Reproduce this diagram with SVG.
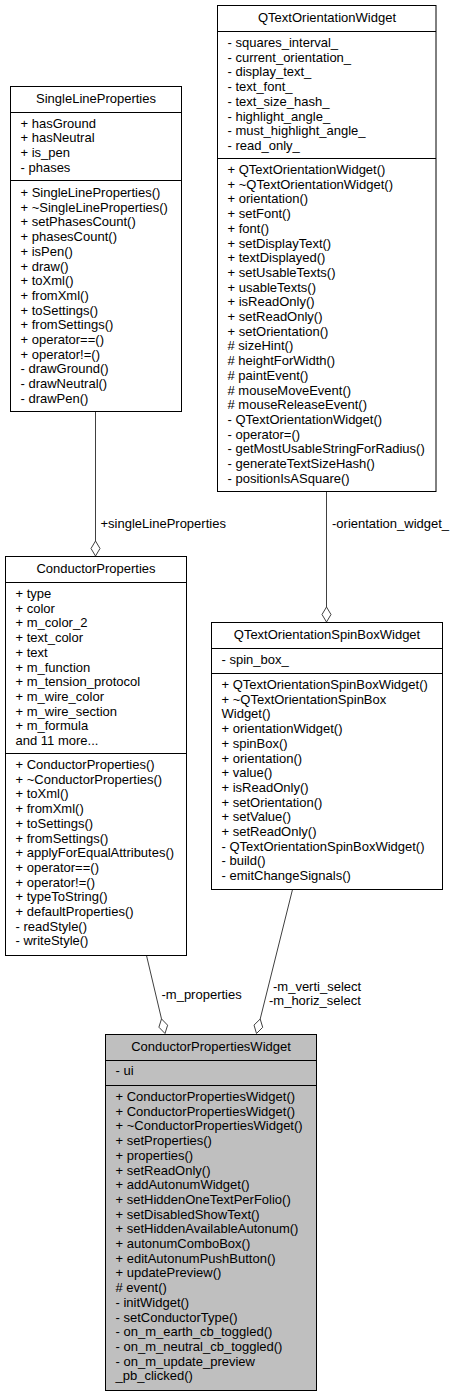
<svg xmlns="http://www.w3.org/2000/svg" width="453" height="1395" viewBox="0 0 453 1395">
<style>
text{font-family:"Liberation Sans",Arial,sans-serif;font-size:13px;fill:#000}
.t{text-anchor:middle}
.box{fill:#fff;stroke:#000;stroke-width:1}
.cur{fill:#bfbfbf;stroke:#000;stroke-width:1}
.sep{stroke:#000;stroke-width:1}
.e{stroke:#404040;stroke-width:1;fill:none}
.d{fill:#fff;stroke:#404040;stroke-width:1}
</style>
<rect width="453" height="1395" fill="#fff"/>
<g id="edges">
<line class="e" x1="95.5" y1="411.5" x2="95.5" y2="541"/>
<polygon class="d" points="95.5,556 100,548.5 95.5,541 91,548.5"/>
<text x="100.5" y="528">+singleLineProperties</text>
<line class="e" x1="326.5" y1="491.5" x2="326.5" y2="607"/>
<polygon class="d" points="326.5,622 331,614.5 326.5,607 322,614.5"/>
<text x="332" y="528">-orientation_widget_</text>
<line class="e" x1="146.5" y1="955.5" x2="161.5" y2="1018.9"/>
<polygon class="d" points="165,1033.5 167.6,1025.2 161.5,1018.9 158.9,1027.2"/>
<text x="161.5" y="998.5">-m_properties</text>
<line class="e" x1="292.5" y1="889.5" x2="260.2" y2="1019"/>
<polygon class="d" points="256.5,1033.5 262.7,1027.3 260.2,1019 254,1025.1"/>
<text x="273" y="991">-m_verti_select</text>
<text x="269" y="1004.5">-m_horiz_select</text>
</g>
<g id="SingleLineProperties">
<rect class="box" x="10.5" y="86.5" width="171" height="325"/>
<line class="sep" x1="10.5" y1="112.5" x2="181.5" y2="112.5"/>
<line class="sep" x1="10.5" y1="180.5" x2="181.5" y2="180.5"/>
<text class="t" x="96" y="103">SingleLineProperties</text>
<text x="20.5" y="127.5">+ hasGround</text>
<text x="20.5" y="142.2">+ hasNeutral</text>
<text x="20.5" y="156.9">+ is_pen</text>
<text x="20.5" y="171.6">- phases</text>
<text x="20.5" y="197">+ SingleLineProperties()</text>
<text x="20.5" y="211.7">+ ~SingleLineProperties()</text>
<text x="20.5" y="226.4">+ setPhasesCount()</text>
<text x="20.5" y="241.1">+ phasesCount()</text>
<text x="20.5" y="255.8">+ isPen()</text>
<text x="20.5" y="270.5">+ draw()</text>
<text x="20.5" y="285.2">+ toXml()</text>
<text x="20.5" y="299.9">+ fromXml()</text>
<text x="20.5" y="314.6">+ toSettings()</text>
<text x="20.5" y="329.3">+ fromSettings()</text>
<text x="20.5" y="344">+ operator==()</text>
<text x="20.5" y="358.7">+ operator!=()</text>
<text x="20.5" y="373.4">- drawGround()</text>
<text x="20.5" y="388.1">- drawNeutral()</text>
<text x="20.5" y="402.8">- drawPen()</text>
</g>
<g id="QTextOrientationWidget">
<rect class="box" x="217.5" y="5.5" width="218.5" height="486"/>
<line class="sep" x1="217.5" y1="31.5" x2="436" y2="31.5"/>
<line class="sep" x1="217.5" y1="158.5" x2="436" y2="158.5"/>
<text class="t" x="327" y="22">QTextOrientationWidget</text>
<text x="227.5" y="47">- squares_interval_</text>
<text x="227.5" y="61.7">- current_orientation_</text>
<text x="227.5" y="76.4">- display_text_</text>
<text x="227.5" y="91.1">- text_font_</text>
<text x="227.5" y="105.8">- text_size_hash_</text>
<text x="227.5" y="120.5">- highlight_angle_</text>
<text x="227.5" y="135.2">- must_highlight_angle_</text>
<text x="227.5" y="149.9">- read_only_</text>
<text x="227.5" y="174">+ QTextOrientationWidget()</text>
<text x="227.5" y="188.7">+ ~QTextOrientationWidget()</text>
<text x="227.5" y="203.4">+ orientation()</text>
<text x="227.5" y="218.1">+ setFont()</text>
<text x="227.5" y="232.8">+ font()</text>
<text x="227.5" y="247.5">+ setDisplayText()</text>
<text x="227.5" y="262.2">+ textDisplayed()</text>
<text x="227.5" y="276.9">+ setUsableTexts()</text>
<text x="227.5" y="291.6">+ usableTexts()</text>
<text x="227.5" y="306.3">+ isReadOnly()</text>
<text x="227.5" y="321">+ setReadOnly()</text>
<text x="227.5" y="335.7">+ setOrientation()</text>
<text x="227.5" y="350.4"># sizeHint()</text>
<text x="227.5" y="365.1"># heightForWidth()</text>
<text x="227.5" y="379.8"># paintEvent()</text>
<text x="227.5" y="394.5"># mouseMoveEvent()</text>
<text x="227.5" y="409.2"># mouseReleaseEvent()</text>
<text x="227.5" y="423.9">- QTextOrientationWidget()</text>
<text x="227.5" y="438.6">- operator=()</text>
<text x="227.5" y="453.3">- getMostUsableStringForRadius()</text>
<text x="227.5" y="468">- generateTextSizeHash()</text>
<text x="227.5" y="482.7">- positionIsASquare()</text>
</g>
<g id="ConductorProperties">
<rect class="box" x="5.5" y="556.5" width="181" height="399"/>
<line class="sep" x1="5.5" y1="582.5" x2="186.5" y2="582.5"/>
<line class="sep" x1="5.5" y1="753.5" x2="186.5" y2="753.5"/>
<text class="t" x="96" y="573">ConductorProperties</text>
<text x="15.5" y="598">+ type</text>
<text x="15.5" y="612.7">+ color</text>
<text x="15.5" y="627.4">+ m_color_2</text>
<text x="15.5" y="642.1">+ text_color</text>
<text x="15.5" y="656.8">+ text</text>
<text x="15.5" y="671.5">+ m_function</text>
<text x="15.5" y="686.2">+ m_tension_protocol</text>
<text x="15.5" y="700.9">+ m_wire_color</text>
<text x="15.5" y="715.6">+ m_wire_section</text>
<text x="15.5" y="730.3">+ m_formula</text>
<text x="15.5" y="745">and 11 more...</text>
<text x="15.5" y="769">+ ConductorProperties()</text>
<text x="15.5" y="783.7">+ ~ConductorProperties()</text>
<text x="15.5" y="798.4">+ toXml()</text>
<text x="15.5" y="813.1">+ fromXml()</text>
<text x="15.5" y="827.8">+ toSettings()</text>
<text x="15.5" y="842.5">+ fromSettings()</text>
<text x="15.5" y="857.2">+ applyForEqualAttributes()</text>
<text x="15.5" y="871.9">+ operator==()</text>
<text x="15.5" y="886.6">+ operator!=()</text>
<text x="15.5" y="901.3">+ typeToString()</text>
<text x="15.5" y="916">+ defaultProperties()</text>
<text x="15.5" y="930.7">- readStyle()</text>
<text x="15.5" y="945.4">- writeStyle()</text>
</g>
<g id="QTextOrientationSpinBoxWidget">
<rect class="box" x="211.5" y="622.5" width="231" height="267"/>
<line class="sep" x1="211.5" y1="648.5" x2="442.5" y2="648.5"/>
<line class="sep" x1="211.5" y1="673.5" x2="442.5" y2="673.5"/>
<text class="t" x="327" y="639">QTextOrientationSpinBoxWidget</text>
<text x="221.5" y="664">- spin_box_</text>
<text x="221.5" y="689">+ QTextOrientationSpinBoxWidget()</text>
<text x="221.5" y="703.7">+ ~QTextOrientationSpinBox</text>
<text x="221.5" y="718.4">Widget()</text>
<text x="221.5" y="733.1">+ orientationWidget()</text>
<text x="221.5" y="747.8">+ spinBox()</text>
<text x="221.5" y="762.5">+ orientation()</text>
<text x="221.5" y="777.2">+ value()</text>
<text x="221.5" y="791.9">+ isReadOnly()</text>
<text x="221.5" y="806.6">+ setOrientation()</text>
<text x="221.5" y="821.3">+ setValue()</text>
<text x="221.5" y="836">+ setReadOnly()</text>
<text x="221.5" y="850.7">- QTextOrientationSpinBoxWidget()</text>
<text x="221.5" y="865.4">- build()</text>
<text x="221.5" y="880.1">- emitChangeSignals()</text>
</g>
<g id="ConductorPropertiesWidget">
<rect class="cur" x="105.5" y="1034.5" width="211" height="356"/>
<line class="sep" x1="105.5" y1="1060.5" x2="316.5" y2="1060.5"/>
<line class="sep" x1="105.5" y1="1085.5" x2="316.5" y2="1085.5"/>
<text class="t" x="211" y="1051">ConductorPropertiesWidget</text>
<text x="115.5" y="1075">- ui</text>
<text x="115.5" y="1101">+ ConductorPropertiesWidget()</text>
<text x="115.5" y="1115.7">+ ConductorPropertiesWidget()</text>
<text x="115.5" y="1130.4">+ ~ConductorPropertiesWidget()</text>
<text x="115.5" y="1145.1">+ setProperties()</text>
<text x="115.5" y="1159.8">+ properties()</text>
<text x="115.5" y="1174.5">+ setReadOnly()</text>
<text x="115.5" y="1189.2">+ addAutonumWidget()</text>
<text x="115.5" y="1203.9">+ setHiddenOneTextPerFolio()</text>
<text x="115.5" y="1218.6">+ setDisabledShowText()</text>
<text x="115.5" y="1233.3">+ setHiddenAvailableAutonum()</text>
<text x="115.5" y="1248">+ autonumComboBox()</text>
<text x="115.5" y="1262.7">+ editAutonumPushButton()</text>
<text x="115.5" y="1277.4">+ updatePreview()</text>
<text x="115.5" y="1292.1"># event()</text>
<text x="115.5" y="1306.8">- initWidget()</text>
<text x="115.5" y="1321.5">- setConductorType()</text>
<text x="115.5" y="1336.2">- on_m_earth_cb_toggled()</text>
<text x="115.5" y="1350.9">- on_m_neutral_cb_toggled()</text>
<text x="115.5" y="1365.6">- on_m_update_preview</text>
<text x="115.5" y="1380.3">_pb_clicked()</text>
</g>
</svg>
